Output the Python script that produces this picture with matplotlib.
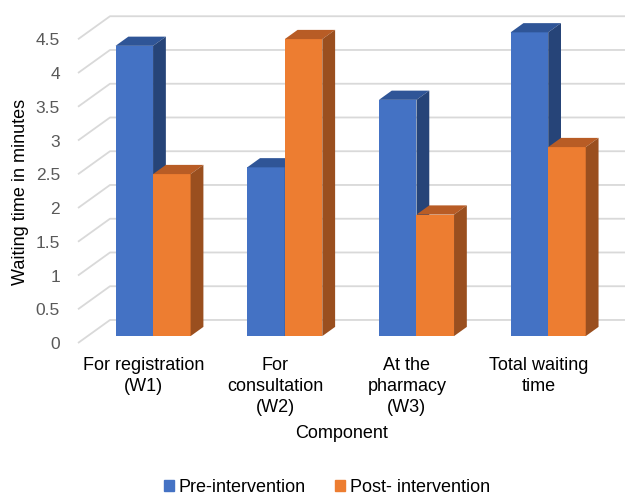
import matplotlib
matplotlib.use('Agg')
import matplotlib.pyplot as plt
from matplotlib.patches import Polygon

plt.rcParams['font.family'] = ['Liberation Sans', 'DejaVu Sans']

categories = ["For registration\n(W1)", "For\nconsultation\n(W2)", "At the\npharmacy\n(W3)", "Total waiting\ntime"]
pre = [4.3, 2.5, 3.5, 4.5]
post = [2.4, 4.4, 1.8, 2.8]
series_names = ["Pre-intervention", "Post- intervention"]
yticks = [0, 0.5, 1, 1.5, 2, 2.5, 3, 3.5, 4, 4.5]

# colours: front, top, side
blue = ('#4472C4', '#2F5597', '#264478')
orange = ('#ED7D31', '#B85C25', '#9A4F1F')

# oblique "3d" projection, offsets for a full unit of depth (data units)
ox, oy = 0.243, 0.341
z0, z1 = 0.30, 0.70
w = 0.285
xmin, xmax = -0.497, 3.656

fig = plt.figure(figsize=(6.25, 4.95), dpi=100)
ax = fig.add_axes([78/625, 152/495, 547/625, 337.5/495])
ax.set_xlim(xmin, xmax)
ax.set_ylim(0, 5)
for s in ax.spines.values():
    s.set_visible(False)
ax.set_xticks([])
ax.set_yticks(yticks)
ax.set_yticklabels([('%g' % v) for v in yticks], fontsize=12.5, color='#595959')
ax.tick_params(axis='y', length=0, pad=13)

# gridlines: side wall diagonal + back wall horizontal
for v in yticks:
    ax.plot([xmin, xmin + ox, xmax], [v, v + oy, v + oy], color='#d9d9d9', lw=1.3,
            zorder=1, clip_on=False, solid_capstyle='butt')


def bar3d(x0, h, cols):
    x1 = x0 + w
    bx, by = z0 * ox, z0 * oy
    dx, dy = (z1 - z0) * ox, (z1 - z0) * oy
    ax.bar(x0 + bx, h, width=w, bottom=by, align='edge', color=cols[0], zorder=3)
    top = [(x0 + bx, by + h), (x1 + bx, by + h), (x1 + bx + dx, by + h + dy), (x0 + bx + dx, by + h + dy)]
    side = [(x1 + bx, by), (x1 + bx, by + h), (x1 + bx + dx, by + h + dy), (x1 + bx + dx, by + dy)]
    ax.add_patch(Polygon(top, closed=True, color=cols[1], zorder=3, lw=0))
    ax.add_patch(Polygon(side, closed=True, color=cols[2], zorder=3, lw=0))


for i in range(len(categories)):
    bar3d(i - w, pre[i], blue)
    bar3d(i, post[i], orange)

# category labels below the floor, at the category positions
for i, lab in enumerate(categories):
    ax.annotate(lab, xy=(i, 0), xycoords=('data', 'figure fraction'),
                xytext=(0, 1 - 357 / 495), textcoords=('offset points', 'figure fraction'),
                ha='center', va='top', fontsize=13, color='#000000', linespacing=1.3)

fig.text(342 / 625, 1 - 433 / 495, "Component", ha='center', va='center', fontsize=13)
fig.text(21 / 625, 1 - 192 / 495, "Waiting time in minutes", ha='center', va='center',
         rotation=90, fontsize=13)

handles = [plt.Rectangle((0, 0), 1, 1, color=blue[0]), plt.Rectangle((0, 0), 1, 1, color=orange[0])]
fig.legend(handles, series_names, loc='center', bbox_to_anchor=(327 / 625, 1 - 487 / 495),
           ncol=2, frameon=False, fontsize=13, handlelength=0.55, handleheight=0.55,
           handletextpad=0.3, columnspacing=1.6)

fig.savefig('out.png', dpi=100)
